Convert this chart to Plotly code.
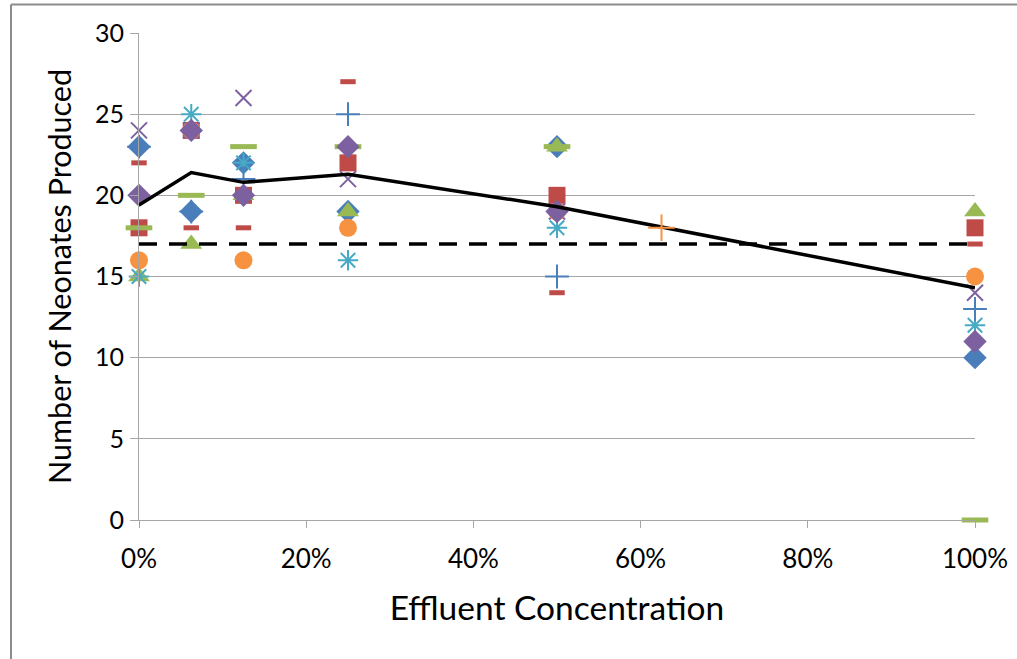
import plotly.graph_objects as go

# Effluent concentration (%) for each test group
concentration = [0, 6.25, 12.5, 25, 50, 100]

# Neonates produced by each of the ten replicates at every concentration
rep1 = [23, 19, 22, 19, 23, 10]
rep2 = [18, 24, 20, 22, 20, 18]
rep3 = [15, 17, 20, 19, 23, 19]
rep4 = [24, 24, 26, 21, 19, 14]
rep5 = [15, 25, 22, 16, 18, 12]
rep6 = [16, 24, 16, 18, 19, 15]
rep7 = [23, 19, 21, 25, 15, 13]
rep8 = [22, 18, 18, 27, 14, 17]
rep9 = [18, 20, 23, 23, 23, 0]
rep10 = [20, 24, 20, 23, 19, 11]

# Mean reproduction per concentration
mean_neonates = [19.4, 21.4, 20.8, 21.3, 19.3, 14.3]

# Reference threshold and the point estimate on the mean curve
threshold = 17
estimate_conc = [62.5]
estimate_value = [18]

# Axis ticks
x_ticks = [0, 20, 40, 60, 80, 100]
x_tick_labels = ["0%", "20%", "40%", "60%", "80%", "100%"]
y_ticks = [0, 5, 10, 15, 20, 25, 30]

FONT = "Lato"

replicates = [
    (rep1, dict(symbol="diamond", size=18, color="#4A7EBB")),
    (rep2, dict(symbol="square", size=17, color="#BE4B48")),
    (rep3, dict(symbol="triangle-up", size=19, color="#98B954")),
    (rep4, dict(symbol="x-thin", size=16, color="#7D60A0", line=dict(width=2, color="#7D60A0"))),
    (rep5, dict(symbol="asterisk", size=17, color="#46AAC5", line=dict(width=2, color="#46AAC5"))),
    (rep6, dict(symbol="circle", size=18, color="#F69240")),
    (rep7, dict(symbol="cross-thin", size=17, color="#4A7EBB", line=dict(width=2, color="#4A7EBB"))),
    (rep8, dict(symbol="line-ew", size=11, color="#BE4B48", line=dict(width=5, color="#BE4B48"))),
    (rep9, dict(symbol="line-ew", size=19, color="#98B954", line=dict(width=5, color="#98B954"))),
    (rep10, dict(symbol="diamond", size=18, color="#7D60A0")),
]

fig = go.Figure()

for i, (vals, marker) in enumerate(replicates, start=1):
    fig.add_trace(go.Scatter(
        x=concentration, y=vals, mode="markers", name=f"Replicate {i}",
        marker=marker, cliponaxis=False,
    ))

fig.add_trace(go.Scatter(
    x=concentration, y=mean_neonates, mode="lines", name="Mean",
    line=dict(color="black", width=3.5), cliponaxis=False,
))

fig.add_trace(go.Scatter(
    x=[concentration[0], concentration[-1]], y=[threshold, threshold],
    mode="lines", name="Threshold",
    line=dict(color="black", width=3.5, dash="18px,12px"), cliponaxis=False,
))

fig.add_trace(go.Scatter(
    x=estimate_conc, y=estimate_value, mode="markers", name="Estimate",
    marker=dict(symbol="cross-thin", size=19, color="#F69240",
                line=dict(width=2, color="#F69240")),
    cliponaxis=False,
))

# Outer chart frame
frame = dict(type="line", xref="paper", yref="paper",
             line=dict(color="#8C8C8C", width=2))
fig.add_shape(**frame, x0=-0.1531, x1=1.2, y0=1.0585, y1=1.0585)
fig.add_shape(**frame, x0=-0.1531, x1=-0.1531, y0=1.0585, y1=-0.4)

fig.update_layout(
    width=1017, height=659,
    margin=dict(l=139, r=42, t=33, b=139),
    paper_bgcolor="white", plot_bgcolor="white",
    showlegend=False,
    font=dict(family=FONT, color="black"),
)

fig.update_xaxes(
    range=[0, 100], tickmode="array", tickvals=x_ticks, ticktext=x_tick_labels,
    automargin=False,
    showgrid=False, zeroline=False,
    showline=True, linecolor="#A6A6A6", linewidth=1,
    ticks="outside", ticklen=7, tickcolor="#A6A6A6",
    tickfont=dict(size=26, family=FONT), ticklabelstandoff=9,
    title=dict(text="Effluent Concentration", font=dict(size=33.5, family=FONT), standoff=23),
)

fig.update_yaxes(
    range=[0, 30], tickmode="array", tickvals=y_ticks,
    automargin=False,
    showgrid=True, gridcolor="#A6A6A6", gridwidth=1, zeroline=False,
    showline=True, linecolor="#A6A6A6", linewidth=1,
    ticks="outside", ticklen=8, tickcolor="#A6A6A6",
    tickfont=dict(size=25, family=FONT), ticklabelstandoff=1,
    title=dict(text="Number of Neonates Produced", font=dict(size=30.5, family=FONT), standoff=14),
)

fig.write_html("out.html")
